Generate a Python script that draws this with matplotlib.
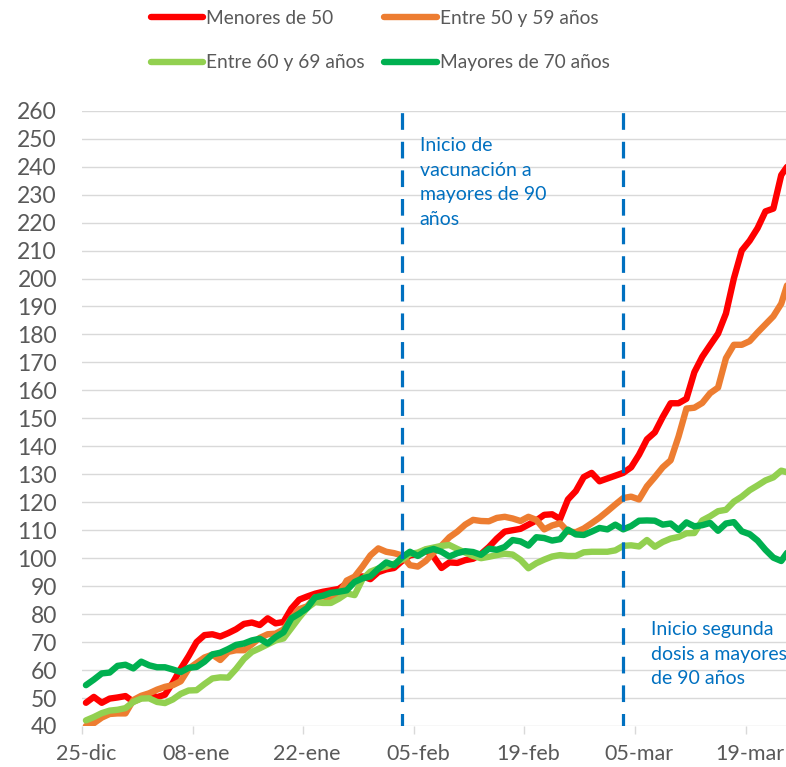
import matplotlib
matplotlib.use("Agg")
import matplotlib.pyplot as plt
import numpy as np

plt.rcParams['font.family'] = ['Lato', 'DejaVu Sans']
plt.rcParams['lines.scale_dashes'] = False

# ---------------- data ----------------
tick_labels = ["25-dic", "08-ene", "22-ene", "05-feb", "19-feb", "05-mar", "19-mar"]
tick_days = [0, 14, 28, 42, 56, 70, 84]
vline_days = [40, 68]   # 03-feb, 03-mar

series_names = ["Menores de 50", "Entre 50 y 59 años", "Entre 60 y 69 años", "Mayores de 70 años"]
series_colors = ["#FF0000", "#ED7D31", "#92D050", "#00B050"]

menores_50 = [48.3, 50.4, 48.3, 49.8, 50.2, 50.7, 48.7, 50.0, 51.4, 50.3,
              51.2, 55.5, 60.5, 65.0, 70.0, 72.5, 72.8, 72.0, 73.2, 74.6,
              76.5, 77.0, 76.1, 78.5, 76.7, 77.2, 82.0, 85.2, 86.3, 87.3,
              88.0, 88.5, 89.0, 91.0, 93.0, 93.5, 92.5, 95.0, 96.0, 96.5,
              99.0, 101.0, 101.5, 103.0, 100.5, 96.5, 98.5, 98.3, 99.3, 99.8,
              101.5, 104.0, 107.0, 109.5, 110.0, 110.5, 112.0, 113.5, 115.5, 115.7,
              114.0, 121.0, 124.0, 129.0, 130.5, 127.5, 128.5, 129.5, 130.5, 132.5,
              137.0, 142.5, 145.0, 150.5, 155.4, 155.4, 157.0, 166.5, 172.0, 176.2,
              180.3, 187.5, 200.0, 210.0, 213.5, 218.0, 224.0, 225.0, 237.0, 241.0]

entre_50_59 = [40.0, 41.0, 43.0, 44.3, 44.5, 44.5, 49.3, 50.8, 51.7, 53.0,
               54.0, 54.6, 56.0, 60.5, 62.5, 64.5, 65.5, 63.6, 66.5, 67.1,
               67.1, 69.2, 71.5, 72.8, 73.0, 74.5, 78.5, 81.8, 82.8, 86.0,
               86.3, 85.8, 87.0, 92.0, 93.4, 97.0, 101.0, 103.5, 102.3, 101.8,
               101.0, 97.5, 97.0, 99.0, 102.0, 104.5, 107.5, 109.5, 112.0, 113.7,
               113.3, 113.2, 114.4, 114.8, 114.2, 113.3, 114.8, 113.7, 110.3, 111.7,
               112.5, 109.5, 109.3, 110.6, 112.5, 114.5, 116.8, 119.2, 121.5, 122.0,
               121.0, 125.7, 129.0, 132.5, 135.0, 143.5, 153.5, 153.8, 155.5, 159.0,
               161.0, 171.5, 176.3, 176.3, 177.6, 180.7, 183.6, 186.5, 191.0, 200.0]

entre_60_69 = [42.0, 43.2, 44.6, 45.5, 45.8, 46.4, 48.6, 49.8, 49.9, 48.6,
               48.2, 49.5, 51.5, 52.7, 52.8, 55.0, 57.0, 57.4, 57.3, 60.4,
               64.0, 66.5, 67.8, 69.2, 70.6, 71.3, 75.0, 78.8, 82.2, 84.3,
               84.0, 84.0, 85.5, 87.4, 86.8, 92.5, 95.2, 96.3, 97.0, 98.0,
               99.5, 101.5, 102.0, 103.2, 103.8, 104.4, 104.7, 103.3, 102.0, 100.8,
               100.0, 100.5, 101.1, 101.6, 101.3, 99.4, 96.4, 98.2, 99.5, 100.6,
               101.1, 100.8, 100.8, 102.1, 102.3, 102.3, 102.3, 102.8, 104.4, 104.6,
               104.2, 106.5, 104.1, 105.8, 107.0, 107.6, 108.9, 109.0, 113.5, 115.0,
               116.8, 117.3, 120.2, 122.0, 124.3, 126.0, 127.8, 128.9, 131.3, 130.5]

mayores_70 = [54.6, 56.6, 58.8, 59.1, 61.5, 61.9, 60.6, 63.0, 61.7, 61.0,
              61.0, 60.2, 59.3, 60.8, 61.1, 63.0, 65.6, 66.2, 67.5, 69.0,
              69.5, 70.6, 71.2, 69.5, 71.8, 73.5, 78.5, 80.2, 82.2, 86.0,
              86.6, 87.6, 88.0, 88.5, 91.5, 92.8, 93.5, 96.2, 98.5, 97.5,
              100.3, 102.3, 100.8, 102.5, 103.3, 102.3, 100.6, 101.8, 102.5, 102.2,
              101.2, 103.4, 103.0, 104.0, 106.5, 106.0, 104.5, 107.5, 107.2, 106.3,
              106.8, 110.2, 108.5, 108.3, 109.5, 110.8, 110.3, 112.0, 110.3, 111.5,
              113.4, 113.5, 113.4, 112.0, 112.4, 110.1, 112.8, 111.4, 111.8, 112.6,
              109.8, 112.4, 112.9, 109.6, 108.6, 106.3, 103.0, 100.2, 99.0, 103.0]

annot1 = "Inicio de\nvacunación a\nmayores de 90\naños"
annot2 = "Inicio segunda\ndosis a mayores\nde 90 años"

# ---------------- figure ----------------
W, H = 786, 767
fig = plt.figure(figsize=(W / 100, H / 100), dpi=100)
ax = fig.add_axes([82 / W, (H - 726) / H, (786 - 82) / W, (726 - 110.7) / H])

grid_c = "#D9D9D9"
text_c = "#595959"
blue = "#0070C0"

ax.set_ylim(40, 260)
ax.set_xlim(-0.5, 88.6)
ax.set_yticks(np.arange(40, 261, 10))
for y in np.arange(40, 261, 10):
    ax.axhline(y, color=grid_c, lw=1.0, zorder=0)

all_series = [menores_50, entre_50_59, entre_60_69, mayores_70]
handles = []
for vals, name, col in zip(all_series, series_names, series_colors):
    h, = ax.plot(np.arange(len(vals)), vals, color=col, lw=4.6, label=name,
                 solid_capstyle='round', solid_joinstyle='round', zorder=3)
    handles.append(h)

for d in vline_days:
    ax.axvline(d, color=blue, lw=2.3, linestyle=(3, (12, 8.6)), zorder=4)

ax.set_xticks(tick_days)
ax.set_xticklabels(tick_labels)
ax.set_xticks([d - 0.5 for d in tick_days], minor=True)
ax.tick_params(axis='x', which='major', length=0, pad=13, labelsize=15.5, labelcolor=text_c)
ax.tick_params(axis='x', which='minor', length=6, width=1, color=grid_c, direction='out')
ax.tick_params(axis='y', length=0, pad=18, labelsize=16.5, labelcolor=text_c)
for s in ax.spines.values():
    s.set_visible(False)

fig.text(419.5 / W, (H - 137) / H, annot1, color=blue,
         fontsize=14, ha='left', va='top', linespacing=1.55)
fig.text(651 / W, (H - 621) / H, annot2, color=blue,
         fontsize=14, ha='left', va='top', linespacing=1.55)

order = [0, 2, 1, 3]
leg = fig.legend([handles[i] for i in order], [series_names[i] for i in order],
                 loc='upper left', bbox_to_anchor=(143 / W, 1 - 2 / H), ncol=2,
                 frameon=False, fontsize=13.8, handlelength=2.75, handletextpad=0.15,
                 columnspacing=1.0, labelspacing=1.45, borderaxespad=0)
for t in leg.get_texts():
    t.set_color(text_c)
for l in leg.get_lines():
    l.set_linewidth(4.6)
    l.set_solid_capstyle('round')

fig.savefig("out.png", dpi=100)
